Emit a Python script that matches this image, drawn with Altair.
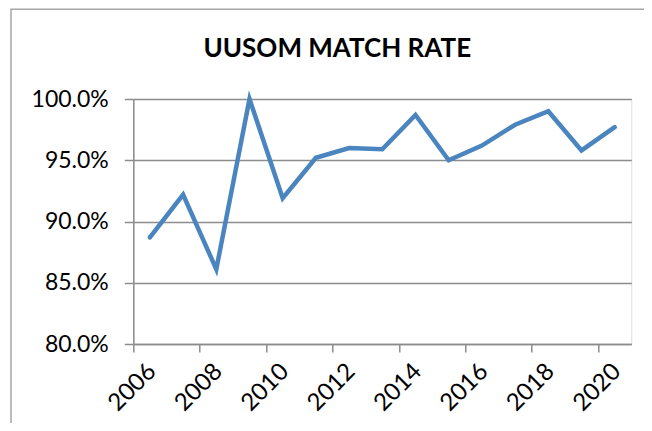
import altair as alt
import pandas as pd

years = list(range(2006, 2021))
match_rate = [0.887, 0.922, 0.861, 1.000, 0.919, 0.952, 0.960, 0.959,
              0.987, 0.950, 0.962, 0.979, 0.990, 0.958, 0.977]
y_ticks = [0.80, 0.85, 0.90, 0.95, 1.00]
x_tick_bounds = [2005.5, 2007.5, 2009.5, 2011.5, 2013.5, 2015.5, 2017.5, 2019.5]

df = pd.DataFrame({"year": years, "rate": match_rate})

FONT = "Lato"
GRID = "#8c8c8c"

line = alt.Chart(df).mark_line(color="#4A85BF", strokeWidth=4.5, strokeCap="round", strokeJoin="miter").encode(
    x=alt.X("year:Q",
            scale=alt.Scale(domain=[2005.5, 2020.5], nice=False, zero=False),
            axis=alt.Axis(values=x_tick_bounds, labelExpr="format(datum.value + 0.5, 'd')",
                          labelOffset=10, labelAngle=-45, grid=False, title=None,
                          domainColor=GRID, domainWidth=1.5, tickColor=GRID, tickWidth=1.5,
                          tickSize=8, labelFont=FONT, labelFontSize=24, labelColor="#000000",
                          labelPadding=7, labelFlush=False, labelOverlap=False)),
    y=alt.Y("rate:Q",
            scale=alt.Scale(domain=[0.80, 1.00], nice=False, zero=False),
            axis=alt.Axis(values=y_ticks, format=".1%", grid=True, gridColor=GRID, gridWidth=1.5,
                          title=None, domainColor=GRID, domainWidth=1.5, tickColor=GRID,
                          tickWidth=1.5, tickSize=9, labelFont=FONT, labelFontSize=23,
                          labelColor="#000000", labelPadding=16)),
)

border = alt.Chart(pd.DataFrame({"k": [0]})).mark_rect(filled=False, stroke="#a6a6a6", strokeWidth=1.5).encode(
    x=alt.value(-122.3), x2=alt.value(700), y=alt.value(-89.7), y2=alt.value(500)
)

chart = alt.layer(border, line).properties(
    width=498, height=245,
    title=alt.TitleParams("UUSOM MATCH RATE", font=FONT, fontSize=26, fontWeight="bold",
                          color="#000000", anchor="middle", frame="group", dx=-45,
                          baseline="bottom", offset=-79),
    autosize=alt.AutoSizeParams(type="none"),
    padding={"left": 125.3, "top": 91, "right": 12.7, "bottom": 79},
).configure_view(stroke=None).configure(background="white")

chart.save("out.html", embed_options={"renderer": "svg", "actions": False})
